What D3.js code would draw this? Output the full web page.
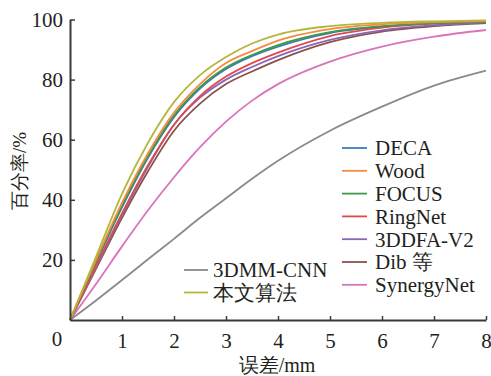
<!DOCTYPE html>
<html>
<head>
<meta charset="utf-8">
<script src="https://cdn.jsdelivr.net/npm/d3@7"></script>
</head>
<body style="margin:0">
<svg id="chart" width="491" height="376"></svg>
<script>
// error thresholds (mm)
const errX = [0, 0.5, 1, 1.5, 2, 2.5, 3, 3.5, 4, 5, 6, 7, 8];

// cumulative percentage per method
const deca      = [0, 19, 37.5, 54, 67.5, 77, 83.5, 87.8, 91, 95.5, 97.6, 98.7, 99.2];
const wood      = [0, 20, 39, 55.5, 69, 78.5, 85.5, 89.5, 93, 96.8, 98.4, 99.1, 99.5];
const focus     = [0, 19.5, 38, 54.5, 68, 77.5, 84, 88.2, 91.5, 95.8, 97.8, 98.8, 99.3];
const ringnet   = [0, 18, 35.5, 51.5, 65, 74.5, 81, 85.5, 89, 94.5, 97.3, 98.7, 99.3];
const ddfa      = [0, 17.5, 35, 51, 65, 74, 80, 84.2, 87.8, 93.2, 96.4, 98.1, 99];
const dib       = [0, 17, 34, 49.5, 63, 72, 78.5, 82.7, 86.5, 92.5, 96, 97.8, 98.8];
const synergy   = [0, 12, 24.5, 36.5, 47.5, 57.5, 66, 73, 78.5, 86, 91, 94.3, 96.5];
const cnn3dmm   = [0, 6.5, 13.3, 20.2, 27, 34, 40.5, 47, 53, 63, 71, 78, 83];
const ours      = [0, 21, 42, 59, 72.5, 81.5, 87.5, 92, 95, 97.8, 98.9, 99.4, 99.7];

const xTicks = [1, 2, 3, 4, 5, 6, 7, 8];
const yTicks = [20, 40, 60, 80, 100];

const series = [
  {name: "DECA", values: deca, color: "#3d7db5"},
  {name: "Wood", values: wood, color: "#f58a45"},
  {name: "FOCUS", values: focus, color: "#3c9a48"},
  {name: "RingNet", values: ringnet, color: "#de4a4d"},
  {name: "3DDFA-V2", values: ddfa, color: "#8a66b8"},
  {name: "Dib 等", values: dib, color: "#8c5248"},
  {name: "SynergyNet", values: synergy, color: "#d874bc"},
  {name: "3DMM-CNN", values: cnn3dmm, color: "#8a8a8a"},
  {name: "本文算法", values: ours, color: "#b6b63c"}
];

const INK = "#231f20";
const serif = sel => sel.style("font-family", '"Liberation Serif"').attr("fill", INK);

const svg = d3.select("#chart");

const x = d3.scaleLinear().domain([0, 8]).range([70, 486]);
const y = d3.scaleLinear().domain([0, 100]).range([320, 19.5]);

const line = d3.line()
    .x((d, i) => x(errX[i]))
    .y(d => y(d))
    .curve(d3.curveMonotoneX);

// draw back to front: grey / pink first, ours last
const order = [7, 6, 5, 4, 0, 3, 2, 1, 8];
svg.append("g")
  .selectAll("path")
  .data(order.map(i => series[i]))
  .join("path")
    .attr("fill", "none")
    .attr("stroke", d => d.color)
    .attr("stroke-width", 1.8)
    .attr("d", d => line(d.values));

// axes
const xAxis = svg.append("g")
    .attr("transform", `translate(0,${y(0)})`)
    .call(d3.axisBottom(x).tickValues(xTicks).tickSize(-4).tickSizeOuter(0).tickPadding(13));
const yAxis = svg.append("g")
    .attr("transform", `translate(${x(0)},0)`)
    .call(d3.axisLeft(y).tickValues(yTicks).tickSize(-5).tickSizeOuter(0).tickPadding(7));

[xAxis, yAxis].forEach(g => {
  g.attr("font-size", 21);
  g.select(".domain").attr("stroke", "#3a3a3a").attr("stroke-width", 2);
  g.selectAll(".tick line").attr("stroke", "#3a3a3a").attr("stroke-width", 1.5);
  g.selectAll(".tick text").attr("font-size", 21).call(serif);
});

svg.append("text")
    .attr("x", 57).attr("y", 346)
    .attr("text-anchor", "middle")
    .attr("font-size", 21)
    .call(serif)
    .text("0");

svg.append("text")
    .attr("x", 277).attr("y", 372)
    .attr("text-anchor", "middle")
    .attr("font-size", 20)
    .call(serif)
    .text("误差/mm");

svg.append("text")
    .attr("transform", "translate(26,171) rotate(-90)")
    .attr("text-anchor", "middle")
    .attr("font-size", 19)
    .call(serif)
    .text("百分率/%");

// legend, right column
const leg1 = series.slice(0, 7);
const l1 = svg.append("g").selectAll("g")
  .data(leg1)
  .join("g")
    .attr("transform", (d, i) => `translate(342,${148 + i * 22.8})`);
l1.append("line")
    .attr("x1", 0).attr("x2", 25)
    .attr("stroke", d => d.color).attr("stroke-width", 1.8);
l1.append("text")
    .attr("x", 33).attr("dy", "0.35em")
    .attr("font-size", 21)
    .call(serif)
    .text(d => d.name);

// legend, lower middle
const leg2 = series.slice(7);
const l2 = svg.append("g").selectAll("g")
  .data(leg2)
  .join("g")
    .attr("transform", (d, i) => `translate(184,${270 + i * 22.5})`);
l2.append("line")
    .attr("x1", 0).attr("x2", 24)
    .attr("stroke", d => d.color).attr("stroke-width", 1.8);
l2.append("text")
    .attr("x", 29).attr("dy", "0.35em")
    .attr("font-size", 21)
    .call(serif)
    .text(d => d.name);
</script>
</body>
</html>
